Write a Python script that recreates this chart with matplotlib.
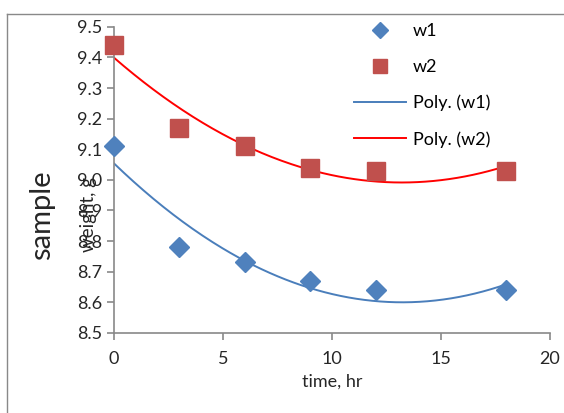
import numpy as np
import matplotlib.pyplot as plt
from matplotlib.lines import Line2D

plt.rcParams['font.family'] = ['Lato', 'DejaVu Sans']

# Data
time_hr = [0, 3, 6, 9, 12, 18]
w1 = [9.11, 8.78, 8.73, 8.67, 8.64, 8.64]
w2 = [9.44, 9.17, 9.11, 9.04, 9.03, 9.03]

# 2nd order polynomial trendlines (like Excel "Poly.")
xs = np.linspace(0, 18, 200)
p1 = np.polyfit(time_hr, w1, 2)
p2 = np.polyfit(time_hr, w2, 2)

fig = plt.figure(figsize=(5.64, 4.13), dpi=100)
ax = fig.add_axes([0.202, 0.194, 0.773, 0.741])

ax.plot(time_hr, w1, 'D', color='#4F81BD', markersize=10.5, label='w1', zorder=3, clip_on=False)
ax.plot(time_hr, w2, 's', color='#C0504D', markersize=13.5, label='w2', zorder=3, clip_on=False)
ax.plot(xs, np.polyval(p1, xs), color='#4A7EBB', lw=1.4, label='Poly. (w1)')
ax.plot(xs, np.polyval(p2, xs), color='#FF0000', lw=1.4, label='Poly. (w2)')

ax.set_xlim(0, 20)
ax.set_ylim(8.5, 9.5)
ax.set_xticks([0, 5, 10, 15, 20])
ax.set_yticks(np.arange(8.5, 9.51, 0.1))
ax.set_yticklabels(['%.1f' % v for v in np.arange(8.5, 9.51, 0.1)])
for s in ['top', 'right']:
    ax.spines[s].set_visible(False)
for s in ['left', 'bottom']:
    ax.spines[s].set_color('#898989')
    ax.spines[s].set_linewidth(1.2)
ax.tick_params(colors='#898989', labelcolor='#262626', labelsize=13, length=5, width=1.2)
ax.tick_params(axis='x', pad=8)
ax.set_xlabel('time, hr', fontsize=13, color='#262626', labelpad=5)

# overlapping y label as in the original
fig.text(0.075, 0.48, 'sample', rotation=90, fontsize=21, color='#262626', ha='center', va='center')
fig.text(0.157, 0.48, 'weight, g', rotation=90, fontsize=13.5, color='#262626', ha='center', va='center')

ax.legend(loc='upper left', bbox_to_anchor=(354 / 564, 1 - 23 / 413), bbox_transform=fig.transFigure,
          frameon=False, fontsize=13, markerscale=0.75, borderpad=0, borderaxespad=0,
          handlelength=2.9, labelspacing=1.1, handletextpad=0.35)

# frame edges of the cropped chart area
fig.add_artist(Line2D([7 / 564, 1], [1 - 14 / 413, 1 - 14 / 413], color='#898989', lw=1))
fig.add_artist(Line2D([7 / 564, 7 / 564], [0, 1 - 14 / 413], color='#898989', lw=1))

fig.savefig('out.png', dpi=100)
